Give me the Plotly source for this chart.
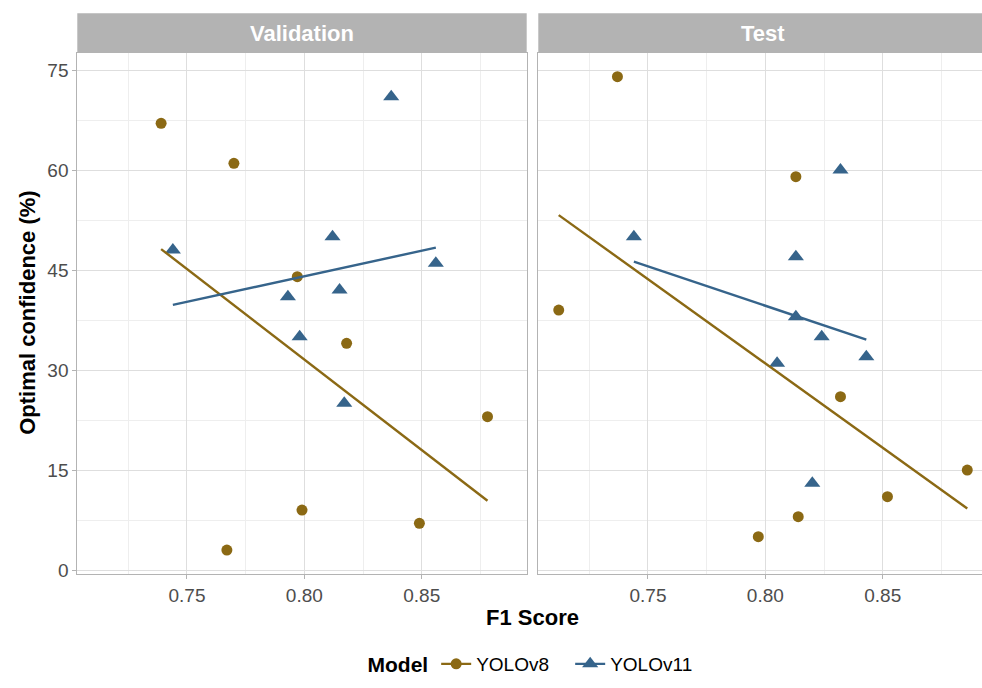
import numpy as np
import plotly.graph_objects as go

# ---- data: F1 score vs optimal confidence threshold, per split and model ----
splits = ["Validation", "Test"]
models = ["YOLOv8", "YOLOv11"]

val_v8_f1 = [0.739, 0.770, 0.797, 0.818, 0.878, 0.799, 0.767, 0.849]
val_v8_conf = [67, 61, 44, 34, 23, 9, 3, 7]
val_v11_f1 = [0.837, 0.744, 0.812, 0.856, 0.793, 0.815, 0.798, 0.817]
val_v11_conf = [71, 48, 50, 46, 41, 42, 35, 25]

test_v8_f1 = [0.737, 0.813, 0.712, 0.832, 0.886, 0.852, 0.814, 0.797]
test_v8_conf = [74, 59, 39, 26, 15, 11, 8, 5]
test_v11_f1 = [0.832, 0.744, 0.813, 0.813, 0.824, 0.843, 0.805, 0.820]
test_v11_conf = [60, 50, 47, 38, 35, 32, 31, 13]

x_ticks = [0.75, 0.80, 0.85]
x_tick_labels = ["0.75", "0.80", "0.85"]
y_ticks = [0, 15, 30, 45, 60, 75]
y_tick_labels = ["0", "15", "30", "45", "60", "75"]

series = {
    ("Validation", "YOLOv8"): (val_v8_f1, val_v8_conf),
    ("Validation", "YOLOv11"): (val_v11_f1, val_v11_conf),
    ("Test", "YOLOv8"): (test_v8_f1, test_v8_conf),
    ("Test", "YOLOv11"): (test_v11_f1, test_v11_conf),
}

# ---- styling ----
W, H = 982, 688
FONT = "Liberation Sans, Arial, sans-serif"
COLORS = {"YOLOv8": "#8B6914", "YOLOv11": "#36648B"}
SYMBOLS = {"YOLOv8": "circle", "YOLOv11": "triangle-up"}
SIZES = {"YOLOv8": 11, "YOLOv11": 14}
BORDER = "#B3B3B3"
GRID_MAJOR = "#DEDEDE"
GRID_MINOR = "#EEEEEE"
TICK_TEXT = "#4D4D4D"

# panel geometry in pixels
L_X0, L_X1 = 77.3, 526.7
R_X0, R_X1 = 538.3, 982.0
P_TOP, P_BOT = 53.0, 573.7
STRIP_TOP = 13.3

# shared x scale (ggplot-style 5% expansion of the pooled data range)
all_f1 = np.concatenate([np.asarray(v[0]) for v in series.values()])
all_conf = np.concatenate([np.asarray(v[1]) for v in series.values()])
x_pad = 0.05 * (all_f1.max() - all_f1.min())
y_pad = 0.05 * (all_conf.max() - all_conf.min())
x_lo, x_hi = all_f1.min() - x_pad, all_f1.max() + x_pad
y_lo, y_hi = all_conf.min() - y_pad, all_conf.max() + y_pad
px_per_unit = (L_X1 - L_X0) / (x_hi - x_lo)
x_hi_right = x_lo + (R_X1 - R_X0) / px_per_unit


def fx(p):
    return p / W


def fy(p):
    return 1 - p / H


fig = go.Figure()
axes = {"Validation": ("x", "y"), "Test": ("x2", "y2")}

# points
for split in splits:
    xa, ya = axes[split]
    for m in models:
        f1, conf = series[(split, m)]
        fig.add_trace(go.Scatter(
            x=f1, y=conf, xaxis=xa, yaxis=ya, mode="markers",
            marker=dict(color=COLORS[m], symbol=SYMBOLS[m], size=SIZES[m],
                        line=dict(width=0)),
            showlegend=False, hoverinfo="skip"))

# linear fits drawn over the points
for split in splits:
    xa, ya = axes[split]
    for m in models:
        f1, conf = series[(split, m)]
        f1 = np.asarray(f1, float)
        conf = np.asarray(conf, float)
        slope, icpt = np.polyfit(f1, conf, 1)
        xs = np.array([f1.min(), f1.max()])
        fig.add_trace(go.Scatter(
            x=xs, y=slope * xs + icpt, xaxis=xa, yaxis=ya, mode="lines",
            line=dict(color=COLORS[m], width=2.4),
            showlegend=False, hoverinfo="skip"))

# legend keys (line + marker)
for m in models:
    fig.add_trace(go.Scatter(
        x=[None], y=[None], mode="lines+markers", name=m,
        marker=dict(color=COLORS[m], symbol=SYMBOLS[m], size=SIZES[m]),
        line=dict(color=COLORS[m], width=2.4)))

common_x = dict(
    tickmode="array", tickvals=x_ticks, ticktext=x_tick_labels,
    showgrid=True, gridcolor=GRID_MAJOR, gridwidth=1,
    minor=dict(dtick=0.025, tick0=0, showgrid=True, gridcolor=GRID_MINOR,
               gridwidth=0.8, ticks=""),
    zeroline=False, showline=True, linecolor=BORDER, linewidth=1, mirror=True,
    ticks="outside", ticklen=4, tickcolor=BORDER, tickwidth=1,
    tickfont=dict(family=FONT, size=19, color=TICK_TEXT),
    automargin=False, fixedrange=True,
)
common_y = dict(
    tickmode="array", tickvals=y_ticks, ticktext=y_tick_labels,
    range=[y_lo, y_hi],
    domain=[fy(P_BOT), fy(P_TOP)],
    showgrid=True, gridcolor=GRID_MAJOR, gridwidth=1,
    minor=dict(dtick=7.5, tick0=0, showgrid=True, gridcolor=GRID_MINOR,
               gridwidth=0.8, ticks=""),
    zeroline=False, showline=True, linecolor=BORDER, linewidth=1,
    automargin=False, fixedrange=True,
)

fig.update_layout(
    width=W, height=H,
    margin=dict(l=0, r=0, t=0, b=0),
    paper_bgcolor="white", plot_bgcolor="white",
    font=dict(family=FONT, color="black"),
    xaxis=dict(common_x, domain=[fx(L_X0), fx(L_X1)], range=[x_lo, x_hi],
               anchor="y"),
    xaxis2=dict(common_x, domain=[fx(R_X0), fx(R_X1)],
                range=[x_lo, x_hi_right], anchor="y2"),
    yaxis=dict(common_y, anchor="x", mirror=True, ticks="outside", ticklen=4,
               tickcolor=BORDER, tickwidth=1,
               tickfont=dict(family=FONT, size=19, color=TICK_TEXT)),
    yaxis2=dict(common_y, anchor="x2", matches="y", mirror=False,
                showticklabels=False, ticks=""),
    showlegend=True,
    legend=dict(
        orientation="h", x=fx(535), xanchor="center", y=fy(664),
        yanchor="middle", font=dict(family=FONT, size=19, color="black"),
        title=dict(text="<b>Model</b>", side="left",
                   font=dict(family=FONT, size=21, color="black")),
        bgcolor="rgba(0,0,0,0)", itemsizing="trace",
        entrywidth=89, entrywidthmode="pixels",
    ),
)

# facet strips
strip_spans = {"Validation": (L_X0, L_X1), "Test": (R_X0, R_X1 + 6)}
for split in splits:
    x0, x1 = strip_spans[split]
    fig.add_shape(type="rect", xref="paper", yref="paper",
                  x0=fx(x0), x1=fx(x1), y0=fy(P_TOP), y1=fy(STRIP_TOP),
                  fillcolor="#B3B3B3", line=dict(width=0), layer="above")
    cx = (x0 + (x1 if split == "Validation" else R_X0 + (L_X1 - L_X0))) / 2
    fig.add_annotation(text=f"<b>{split}</b>", xref="paper", yref="paper",
                       x=fx(cx), y=fy((P_TOP + STRIP_TOP) / 2),
                       xanchor="center", yanchor="middle", showarrow=False,
                       font=dict(family=FONT, size=22, color="white"))

# axis titles
fig.add_annotation(text="<b>F1 Score</b>", xref="paper", yref="paper",
                   x=fx((L_X0 + R_X0 + (L_X1 - L_X0)) / 2), y=fy(617),
                   xanchor="center", yanchor="middle", showarrow=False,
                   font=dict(family=FONT, size=22, color="black"))
fig.add_annotation(text="<b>Optimal confidence (%)</b>", xref="paper",
                   yref="paper", x=fx(27.5), y=fy((P_TOP + P_BOT) / 2),
                   xanchor="center", yanchor="middle", textangle=-90,
                   showarrow=False,
                   font=dict(family=FONT, size=22, color="black"))

fig.write_html("out.html", config={"displayModeBar": False})
